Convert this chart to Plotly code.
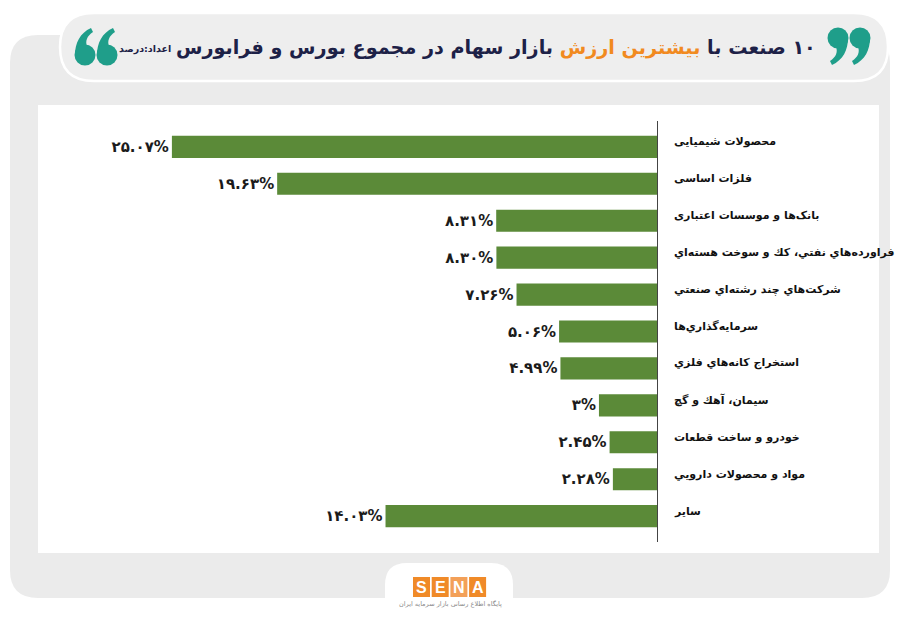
import plotly.graph_objects as go

categories = [
    "محصولات شیمیایی",
    "فلزات اساسی",
    "بانک‌ها و موسسات اعتباری",
    "فراورده‌هاي نفتي، كك و سوخت هسته‌اي",
    "شرکت‌هاي چند رشته‌اي صنعتي",
    "سرمایه‌گذاري‌ها",
    "استخراج کانه‌هاي فلزي",
    "سیمان، آهك و گچ",
    "خودرو و ساخت قطعات",
    "مواد و محصولات دارویي",
    "سایر",
]
values = [25.07, 19.63, 8.31, 8.30, 7.26, 5.06, 4.99, 3, 2.45, 2.28, 14.03]
value_labels = ["۲۵.۰۷%", "۱۹.۶۳%", "۸.۳۱%", "۸.۳۰%", "۷.۲۶%", "۵.۰۶%",
                "۴.۹۹%", "۳%", "۲.۴۵%", "۲.۲۸%", "۱۴.۰۳%"]

title_a = "۱۰ صنعت با "
title_b = "بیشترین ارزش"
title_c = " بازار سهام در مجموع بورس و فرابورس"
unit_note = "اعداد:درصد"

FONT = "DejaVu Sans"
GREEN = "#5b8a38"
TEAL = "#1f9e8a"
RLM = "\u200f"

# pixel geometry of the plot area
L, R, T, B = 100, 657, 121, 542
W, H = R - L, B - T
PXW, PXH = 900, 623


def px(x):
    return (x - L) / W


def py(y):
    return 1 - (y - T) / H


def rrect(x0, y0, x1, y1, r, top=True, bottom=True):
    rt = r if top else 0
    rb = r if bottom else 0
    p = f"M {px(x0 + rt)},{py(y0)} L {px(x1 - rt)},{py(y0)} "
    p += f"Q {px(x1)},{py(y0)} {px(x1)},{py(y0 + rt)} "
    p += f"L {px(x1)},{py(y1 - rb)} "
    p += f"Q {px(x1)},{py(y1)} {px(x1 - rb)},{py(y1)} "
    p += f"L {px(x0 + rb)},{py(y1)} "
    p += f"Q {px(x0)},{py(y1)} {px(x0)},{py(y1 - rb)} "
    p += f"L {px(x0)},{py(y0 + rt)} "
    p += f"Q {px(x0)},{py(y0)} {px(x0 + rt)},{py(y0)} Z"
    return p


# quote glyph: ball with a tail (local pixel frame, ball centre at 0,0, r=10)
TAIL = [("M", [(-10, 0)]),
        ("C", [(-10, -12), (-5, -22), (6, -27)]),
        ("L", [(8, -23)]),
        ("C", [(2, -19), (0, -14), (2, -9)]),
        ("L", [(0, 0)])]


def quote_shapes(cx, cy, flip):
    s = -1 if flip else 1
    parts = []
    for cmd, pts in TAIL:
        coords = " ".join(f"{px(cx + s * x)},{py(cy + s * y)}" for x, y in pts)
        parts.append(f"{cmd} {coords}")
    path = " ".join(parts) + " Z"
    return [
        dict(type="path", xref="paper", yref="paper", path=path,
             fillcolor=TEAL, line=dict(width=0), layer="above"),
        dict(type="circle", xref="paper", yref="paper",
             x0=px(cx - 10.5), x1=px(cx + 10.5), y0=py(cy + 10.5), y1=py(cy - 10.5),
             fillcolor=TEAL, line=dict(width=0), layer="above"),
    ]


idx = list(range(len(categories)))

fig = go.Figure()
fig.add_trace(go.Bar(
    x=values, y=idx, orientation="h",
    marker=dict(color=GREEN, line=dict(width=0)),
    width=0.6,
    text=value_labels, textposition="outside",
    textfont=dict(family=FONT, size=15, color="#1b1b1b", weight="bold"),
    cliponaxis=False, hoverinfo="skip",
))

shapes = []
# big gray panel
shapes.append(dict(type="path", xref="paper", yref="paper",
                   path=rrect(10, 35, 890, 598, 28),
                   fillcolor="#ebebeb", line=dict(width=0), layer="below"))
# inner white area
shapes.append(dict(type="rect", xref="paper", yref="paper",
                   x0=px(38), x1=px(879), y0=py(105), y1=py(553),
                   fillcolor="#ffffff", line=dict(width=0), layer="below"))
# title pill
shapes.append(dict(type="path", xref="paper", yref="paper",
                   path=rrect(60, 13, 888, 81, 34),
                   fillcolor="#eeeeee", line=dict(width=2.5, color="#ffffff"),
                   layer="below"))
# logo tab
shapes.append(dict(type="path", xref="paper", yref="paper",
                   path=rrect(385, 563, 513, 615, 22, top=True, bottom=False),
                   fillcolor="#ffffff", line=dict(width=0), layer="below"))
# quote marks
for cx in (85, 107):
    shapes += quote_shapes(cx, 55, flip=False)
for cx in (838, 860):
    shapes += quote_shapes(cx, 38, flip=True)

# logo squares
letters = ["S", "E", "N", "A"]
annotations = []
for i, ch in enumerate(letters):
    x0 = 413 + i * 18.7
    shapes.append(dict(type="rect", xref="paper", yref="paper",
                       x0=px(x0), x1=px(x0 + 17), y0=py(577), y1=py(597),
                       fillcolor="#f08a28" if ch != "N" else "#f3a058",
                       line=dict(width=0), layer="below"))
    annotations.append(dict(xref="paper", yref="paper", x=px(x0 + 8.5), y=py(587),
                            xanchor="center", yanchor="middle",
                            text=ch, showarrow=False,
                            font=dict(family="Liberation Sans", size=16, color="#ffffff",
                                      weight="bold")))
annotations.append(dict(xref="paper", yref="paper", x=px(450), y=py(604),
                        xanchor="center", yanchor="middle",
                        text="پایگاه اطلاع رسانی بازار سرمایه ایران", showarrow=False,
                        font=dict(family=FONT, size=6.5, color="#8a8a8a")))

# category labels
for i, c in enumerate(categories):
    annotations.append(dict(xref="paper", yref="y", x=1, y=i, xanchor="left",
                            xshift=15, yshift=5, text=c, showarrow=False,
                            font=dict(family=FONT, size=11, color="#111111",
                                      weight="bold")))

# title
annotations.append(dict(
    xref="paper", yref="paper", x=px(818), y=py(47), xanchor="right", yanchor="middle",
    text=(f"{RLM}<span style='color:#1d2147'>{RLM}{title_a}</span>"
          f"<span style='color:#f18a1f'>{title_b}</span>"
          f"<span style='color:#1d2147'>{title_c}{RLM}</span>"),
    showarrow=False,
    font=dict(family=FONT, size=19.2, color="#1d2147", weight="bold")))
annotations.append(dict(
    xref="paper", yref="paper", x=px(173), y=py(49), xanchor="right", yanchor="middle",
    text=RLM + unit_note + RLM, showarrow=False,
    font=dict(family=FONT, size=9.5, color="#1d2147", weight="bold")))

fig.update_layout(
    width=PXW, height=PXH,
    margin=dict(l=L, r=PXW - R, t=T, b=PXH - B, pad=0),
    paper_bgcolor="#ffffff", plot_bgcolor="rgba(0,0,0,0)",
    showlegend=False,
    xaxis=dict(range=[W / 19.35, 0], showgrid=False, zeroline=False,
               showticklabels=False, showline=False, fixedrange=True),
    yaxis=dict(range=[10.7, -0.7], showgrid=False, zeroline=False,
               showticklabels=False, side="right", showline=True,
               linecolor="#444444", linewidth=1, fixedrange=True),
    shapes=shapes, annotations=annotations,
    bargap=0.4,
)

fig.write_html("out.html", config={"displayModeBar": False})
